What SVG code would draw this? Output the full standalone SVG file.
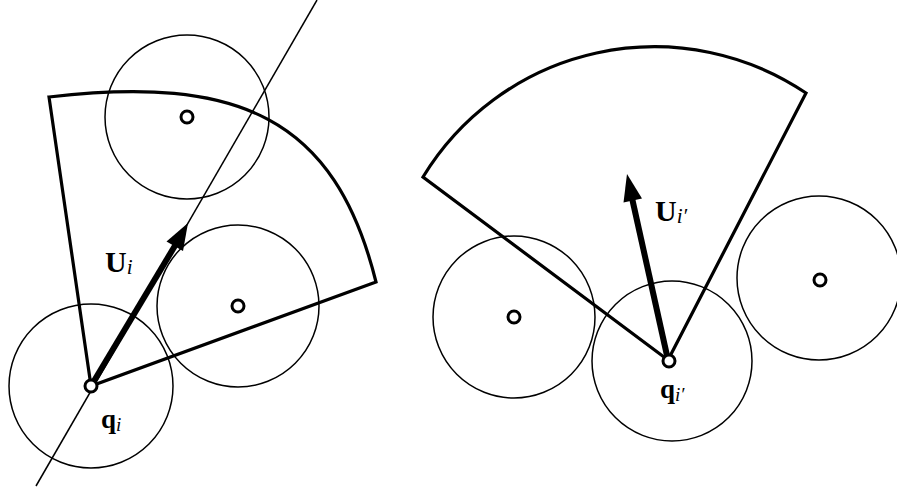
<svg xmlns="http://www.w3.org/2000/svg" width="897" height="488" viewBox="0 0 897 488">
<style>
.c{fill:none;stroke:#000;stroke-width:1.5}
.s{fill:none;stroke:#000;stroke-width:3.2;stroke-linejoin:miter}
.p{fill:#fff;stroke:#000;stroke-width:3}
.sh{stroke:#000;stroke-width:6;fill:none}
.hd{fill:#000}
.lb{font-family:"Liberation Serif","DejaVu Serif",serif;font-weight:bold;fill:#000}
.sub{font-style:italic;font-weight:normal}
</style>
<rect width="897" height="488" fill="#fff"/>
<g id="left-sector"><path class="s" d="M91 386 L49 97 C238 75 335 117 376 282 Z"/></g>
<g id="line"><line class="c" x1="36" y1="486" x2="317" y2="0"/></g>
<g id="circle-qi"><circle class="c" cx="91" cy="386" r="82"/></g>
<g id="circle-top"><circle class="c" cx="187" cy="117" r="82"/><circle class="p" cx="187" cy="117" r="6"/></g>
<g id="circle-right"><circle class="c" cx="238" cy="306" r="81"/><circle class="p" cx="238" cy="306" r="6"/></g>
<g id="right-sector"><path class="s" d="M668 360 L423 177 A271 271 0 0 1 806 93 Z"/></g>
<g id="circle-qi2"><circle class="c" cx="672" cy="361" r="80"/></g>
<g id="circle-l2"><circle class="c" cx="514" cy="317" r="81"/><circle class="p" cx="514" cy="317" r="6"/></g>
<g id="circle-r2"><circle class="c" cx="819" cy="278" r="82"/><circle class="p" cx="820" cy="280" r="6"/></g>
<g id="connectors">
<line class="sh" x1="91" y1="386" x2="176" y2="244"/>
<polygon class="hd" points="188,223 183,251 166.5,241.5"/>
<line class="sh" x1="668" y1="360" x2="632" y2="198"/>
<polygon class="hd" points="627,174 642,198.5 623.5,202.5"/>
</g>
<g id="qi"><circle class="p" cx="91" cy="386" r="6"/></g>
<g id="qi2"><circle class="p" cx="669" cy="361" r="6"/></g>
<g id="labels">
<text class="lb" x="105" y="272" font-size="30">U<tspan class="sub" font-size="21" dy="2">i</tspan></text>
<text class="lb" x="101" y="428" font-size="27">q<tspan class="sub" font-size="19" dy="3">i</tspan></text>
<text class="lb" x="655" y="221" font-size="30">U<tspan class="sub" font-size="21" dy="2">i′</tspan></text>
<text class="lb" x="660" y="398" font-size="27">q<tspan class="sub" font-size="19" dy="3">i′</tspan></text>
</g>
</svg>
